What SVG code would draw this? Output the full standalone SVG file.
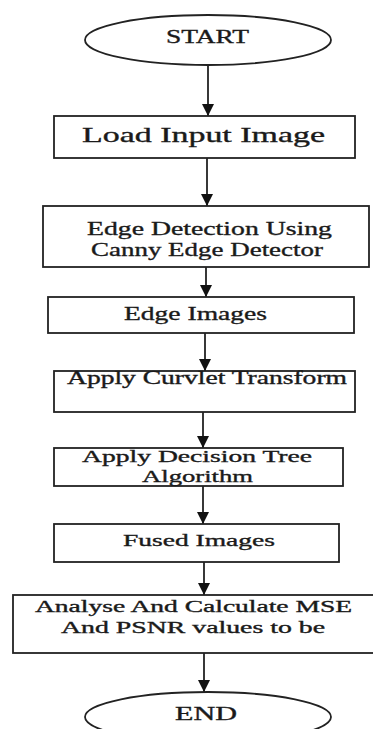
<svg xmlns="http://www.w3.org/2000/svg" width="373" height="729" viewBox="0 0 373 729">
<style>
.shape{fill:#fff;stroke:#222;stroke-width:1.8}
.lbl{font-family:"Liberation Serif","Times New Roman",serif;fill:#1a1a1a;stroke:#1a1a1a;stroke-width:0.35;text-anchor:start}
.conn{stroke:#222;stroke-width:1.8;fill:none}
</style>
<defs>
<marker id="ah" markerUnits="userSpaceOnUse" markerWidth="14" markerHeight="12" refX="12" refY="6" orient="auto">
<path d="M0,0 L12,6 L0,12 Z" fill="#111"/>
</marker>
</defs>
<rect width="373" height="729" fill="#fff"/>
<g id="connectors">
<line class="conn" x1="208" y1="65" x2="208" y2="116" marker-end="url(#ah)"/>
<line class="conn" x1="207" y1="158" x2="207" y2="206" marker-end="url(#ah)"/>
<line class="conn" x1="206" y1="267" x2="206" y2="297" marker-end="url(#ah)"/>
<line class="conn" x1="205" y1="333" x2="205" y2="371" marker-end="url(#ah)"/>
<line class="conn" x1="203" y1="412" x2="203" y2="448" marker-end="url(#ah)"/>
<line class="conn" x1="203" y1="486" x2="203" y2="524" marker-end="url(#ah)"/>
<line class="conn" x1="204" y1="562" x2="204" y2="595" marker-end="url(#ah)"/>
<line class="conn" x1="204" y1="653" x2="204" y2="692" marker-end="url(#ah)"/>
</g>
<g id="start">
<ellipse class="shape" cx="208" cy="40" rx="123" ry="25"/>
<text class="lbl" x="166" y="43" font-size="19" textLength="83" lengthAdjust="spacingAndGlyphs">START</text>
</g>
<g id="load">
<rect class="shape" x="54" y="116" width="301" height="42"/>
<text class="lbl" x="82" y="142" font-size="21" textLength="243" lengthAdjust="spacingAndGlyphs">Load Input Image</text>
</g>
<g id="edgedetect">
<rect class="shape" x="43" y="206" width="326" height="61"/>
<text class="lbl" x="87" y="235" font-size="19" textLength="245" lengthAdjust="spacingAndGlyphs">Edge Detection Using</text>
<text class="lbl" x="91" y="256" font-size="19" textLength="232" lengthAdjust="spacingAndGlyphs">Canny Edge Detector</text>
</g>
<g id="edgeimages">
<rect class="shape" x="48" y="297" width="306" height="36"/>
<text class="lbl" x="124" y="320" font-size="19" textLength="143" lengthAdjust="spacingAndGlyphs">Edge Images</text>
</g>
<g id="curvlet">
<rect class="shape" x="54" y="371" width="301" height="41"/>
<text class="lbl" x="67" y="384" font-size="18" textLength="280" lengthAdjust="spacingAndGlyphs">Apply Curvlet Transform</text>
</g>
<g id="decision">
<rect class="shape" x="54" y="448" width="289" height="38"/>
<text class="lbl" x="82" y="462" font-size="17" textLength="230" lengthAdjust="spacingAndGlyphs">Apply Decision Tree</text>
<text class="lbl" x="142" y="482" font-size="17" textLength="111" lengthAdjust="spacingAndGlyphs">Algorithm</text>
</g>
<g id="fused">
<rect class="shape" x="54" y="524" width="285" height="38"/>
<text class="lbl" x="123" y="546" font-size="17" textLength="152" lengthAdjust="spacingAndGlyphs">Fused Images</text>
</g>
<g id="analyse">
<rect class="shape" x="13" y="595" width="372" height="58"/>
<text class="lbl" x="35" y="612" font-size="16" textLength="317" lengthAdjust="spacingAndGlyphs">Analyse And Calculate MSE</text>
<text class="lbl" x="61" y="633" font-size="16" textLength="264" lengthAdjust="spacingAndGlyphs">And PSNR values to be</text>
</g>
<g id="end">
<ellipse class="shape" cx="208" cy="717" rx="123" ry="25"/>
<text class="lbl" x="175" y="720" font-size="19" textLength="62" lengthAdjust="spacingAndGlyphs">END</text>
</g>
</svg>
